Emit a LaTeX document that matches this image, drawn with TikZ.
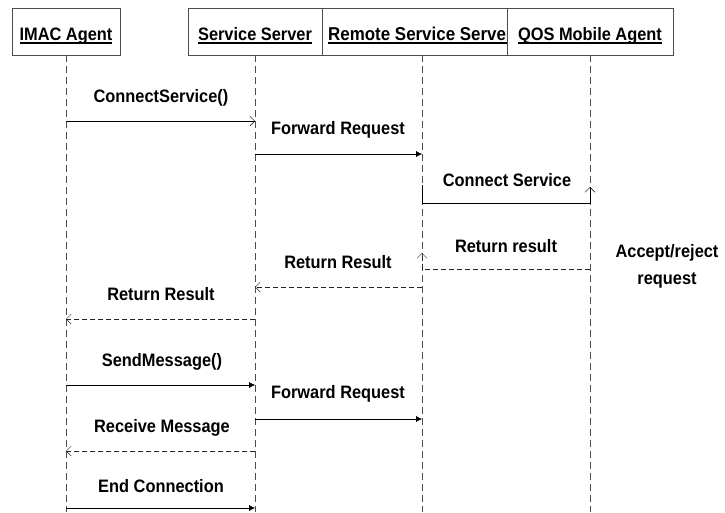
\documentclass[tikz,border=0pt]{standalone}
\usepackage{fontspec}
\setmainfont{Liberation Sans}
\newfontfamily\msgfont{Liberation Sans}[FakeStretch=0.91]
\usetikzlibrary{arrows.meta}
\newcommand{\HeadLine}[1]{\setbox0\hbox{#1}\copy0\llap{\rule[-4pt]{\wd0}{2pt}}}

\begin{document}
\begin{tikzpicture}
[
x=1pt, y=-1pt,
Head/.style={rectangle,draw=black!70,thin,minimum height=47pt,inner sep=0pt},
HeadText/.style={anchor=base,inner sep=0pt,font=\msgfont\fontsize{18}{20}\selectfont\bfseries},
Lifeline/.style={draw=black!70,thin,dash pattern=on 7pt off 4pt},
Label/.style={inner sep=0pt,font=\msgfont\fontsize{18}{27}\selectfont\bfseries},
Call/.style={draw=black,thin,-{Latex[length=6pt,width=6pt]}},
Open/.style={draw=black,thin,-{Straight Barb[length=5pt,width=10pt]}},
Reply/.style={draw=black!85,thin,dash pattern=on 5pt off 3pt,-{Straight Barb[length=5pt,width=10pt]}},
]
\useasboundingbox (0,0) rectangle (725,512);

% objects
\node[Head,minimum width=108pt] (ImacAgent) at (66,31.5) {};
\node[HeadText] (ImacText) at (66,40) {\HeadLine{IMAC Agent}};
\node[Head,minimum width=134pt] (ServiceServer) at (255,31.5) {};
\node[HeadText] (ServiceText) at (255,40) {\HeadLine{Service Server}};
\node[Head,minimum width=185pt] (RemoteServer) at (414.5,31.5) {};
\node[HeadText,anchor=base west,font=\msgfont\fontsize{18.6}{20}\selectfont\bfseries] (RemoteText) at (328,40) {\HeadLine{Remote Service Server}};
\node[Head,fill=white,minimum width=166pt] (QosAgent) at (590,31.5) {};
\node[HeadText] (QosText) at (590,40) {\HeadLine{QOS Mobile Agent}};

% lifelines
\coordinate (ImacTop) at (ImacAgent.south);
\coordinate (ServiceTop) at (ServiceServer.south);
\coordinate (RemoteTop) at (422,55);
\coordinate (QosTop) at (QosAgent.south);
\coordinate (ImacEnd) at (ImacTop |- 0,512);
\coordinate (ServiceEnd) at (ServiceTop |- 0,512);
\coordinate (RemoteEnd) at (RemoteTop |- 0,512);
\coordinate (QosEnd) at (QosTop |- 0,512);

\draw[Lifeline] (ImacTop) -- (ImacEnd);
\draw[Lifeline] (ServiceTop) -- (ServiceEnd);
\draw[Lifeline] (RemoteTop) -- (RemoteEnd);
\draw[Lifeline] (QosTop) -- (QosEnd);

% messages
\draw[Open] (ImacTop |- 0,121) -- (ServiceTop |- 0,121);
\draw[Call] (ServiceTop |- 0,154) -- (RemoteTop |- 0,154);
\draw[Open] (RemoteTop |- 0,185) -- (RemoteTop |- 0,203) -- (QosTop |- 0,203) -- (QosTop |- 0,187);
\draw[Reply] (QosTop |- 0,269) -- (RemoteTop |- 0,269) -- (RemoteTop |- 0,253);
\draw[Reply] (RemoteTop |- 0,287) -- (ServiceTop |- 0,287);
\draw[Reply] (ServiceTop |- 0,319) -- (ImacTop |- 0,319);
\draw[Call] (ImacTop |- 0,385) -- (ServiceTop |- 0,385);
\draw[Call] (ServiceTop |- 0,419) -- (RemoteTop |- 0,419);
\draw[Reply] (ServiceTop |- 0,451) -- (ImacTop |- 0,451);
\draw[Call] (ImacTop |- 0,508) -- (ServiceTop |- 0,508);

% labels
\node[Label] (ConnectCall) at (161,98) {ConnectService()};
\node[Label] (ForwardOne) at (338,130) {Forward Request};
\node[Label] (ConnectQos) at (507,180) {Connect Service};
\node[Label] (ResultQos) at (506,246) {Return result};
\node[Label,align=center] (AcceptNote) at (667,266) {Accept/reject\\request};
\node[Label] (ResultRemote) at (338,262) {Return Result};
\node[Label] (ResultService) at (161,294) {Return Result};
\node[Label] (SendCall) at (162,362) {SendMessage()};
\node[Label] (ForwardTwo) at (338,394) {Forward Request};
\node[Label] (ReceiveReply) at (162,428) {Receive Message};
\node[Label] (EndCall) at (161,486) {End Connection};

\end{tikzpicture}
\end{document}
